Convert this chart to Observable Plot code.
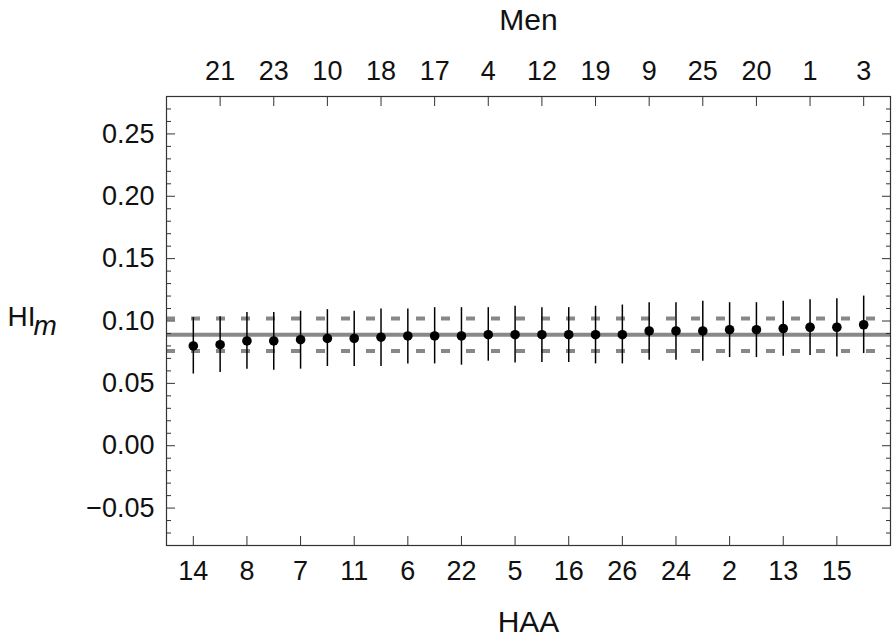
<!DOCTYPE html>
<html>
<head>
<meta charset="utf-8">
<script src="https://cdn.jsdelivr.net/npm/d3@7"></script>
<script src="https://cdn.jsdelivr.net/npm/@observablehq/plot@0.6"></script>
<style>
  html, body { margin: 0; padding: 0; background: #fff; }
</style>
</head>
<body>
<div id="chart"></div>
<script>
// Subjects in rank order (odd positions labelled on the bottom "HAA" axis, even on the top "Men" axis)
const subjects = [14, 21, 8, 23, 7, 10, 11, 18, 6, 17, 22, 4, 5, 12, 16, 19, 26, 9, 24, 25, 2, 20, 13, 1, 15, 3];
const hiM    = [0.080, 0.081, 0.084, 0.084, 0.085, 0.086, 0.086, 0.087, 0.088, 0.088, 0.088, 0.089, 0.089,
                0.089, 0.089, 0.089, 0.089, 0.092, 0.092, 0.092, 0.093, 0.093, 0.094, 0.095, 0.095, 0.097];
const hiLow  = [0.0575, 0.0587, 0.0614, 0.0606, 0.0614, 0.0635, 0.0635, 0.0635, 0.0656, 0.0656, 0.0646, 0.0678, 0.0664,
                0.0667, 0.0667, 0.0656, 0.0656, 0.0686, 0.0686, 0.0678, 0.0707, 0.0707, 0.0718, 0.0723, 0.0712, 0.0739];
const hiHigh = [0.1028, 0.1035, 0.1068, 0.1068, 0.1078, 0.1091, 0.1078, 0.1096, 0.1096, 0.1107, 0.1107, 0.1107, 0.1118,
                0.1107, 0.1107, 0.1118, 0.1128, 0.1147, 0.1147, 0.1158, 0.1147, 0.1147, 0.1158, 0.1171, 0.1179, 0.1200];
const meanHI = [0.089];
const meanBand = [0.076, 0.102];
const yMajorTicks = [-0.05, 0.00, 0.05, 0.10, 0.15, 0.20, 0.25];
const yMinorTicks = d3.range(-8, 29).map(i => i / 100).filter(v => !yMajorTicks.some(m => Math.abs(m - v) < 1e-9));

const rows = subjects.map((s, i) => ({pos: i + 1, subject: s, hi: hiM[i], lo: hiLow[i], up: hiHigh[i]}));
const bottomPos = rows.filter(d => d.pos % 2 === 1).map(d => d.pos);
const topPos = rows.filter(d => d.pos % 2 === 0).map(d => d.pos);
const label = p => String(subjects[p - 1]);
const fmtY = v => d3.format(".2f")(v).replace("-", "\u2212");

const frameColor = "#333";
const tickFont = 27;
const chart = Plot.plot({
  width: 892,
  height: 639,
  marginLeft: 166,
  marginRight: 2,
  marginTop: 96,
  marginBottom: 94,
  style: {fontFamily: "'Liberation Sans', Arial, sans-serif", fontSize: tickFont + "px", color: "#111", background: "#fff"},
  x: {domain: [0, 27]},
  y: {domain: [-0.08, 0.28]},
  marks: [
    Plot.ruleY(meanBand, {stroke: "#888", strokeWidth: 4, strokeDasharray: "9,16"}),
    Plot.ruleY(meanHI, {stroke: "#888", strokeWidth: 4}),
    Plot.ruleX(rows, {x: "pos", y1: "lo", y2: "up", stroke: "#000", strokeWidth: 1.5}),
    Plot.dot(rows, {x: "pos", y: "hi", r: 4.8, fill: "#000", stroke: "none"}),
    Plot.frame({stroke: frameColor, strokeWidth: 1.2}),
    // left axis
    Plot.axisY(yMajorTicks, {anchor: "left", tickSize: -9, tickPadding: 21, tickFormat: fmtY, stroke: frameColor, fontSize: tickFont, label: null}),
    Plot.axisY(yMinorTicks, {anchor: "left", tickSize: -5, stroke: frameColor, fill: "none", label: null}),
    // right axis (ticks only)
    Plot.axisY(yMajorTicks, {anchor: "right", tickSize: -9, stroke: frameColor, fill: "none", label: null}),
    Plot.axisY(yMinorTicks, {anchor: "right", tickSize: -5, stroke: frameColor, fill: "none", label: null}),
    // bottom axis (HAA)
    Plot.axisX(bottomPos, {anchor: "bottom", tickSize: -9, tickPadding: 24, tickFormat: label, stroke: frameColor, fontSize: tickFont, label: null}),
    // top axis (Men)
    Plot.axisX(topPos, {anchor: "top", tickSize: -9, tickPadding: 26, tickFormat: label, stroke: frameColor, fontSize: tickFont, label: null}),
    // axis titles
    Plot.text(["Men"], {text: d => d, frameAnchor: "top", lineAnchor: "middle", dy: -76, fontSize: 30, fill: "#111"}),
    Plot.text(["HAA"], {text: d => d, frameAnchor: "bottom", lineAnchor: "middle", dy: 77, fontSize: 30, fill: "#111"}),
    Plot.text(["HI"], {text: d => d, frameAnchor: "left", textAnchor: "start", dx: -159, dy: -4, fontSize: 28, fill: "#111"}),
    Plot.text(["m"], {text: d => d, frameAnchor: "left", textAnchor: "start", dx: -133, dy: 5.5, fontSize: 28, fontStyle: "italic", fill: "#111"})
  ]
});
document.getElementById("chart").appendChild(chart);
</script>
</body>
</html>
